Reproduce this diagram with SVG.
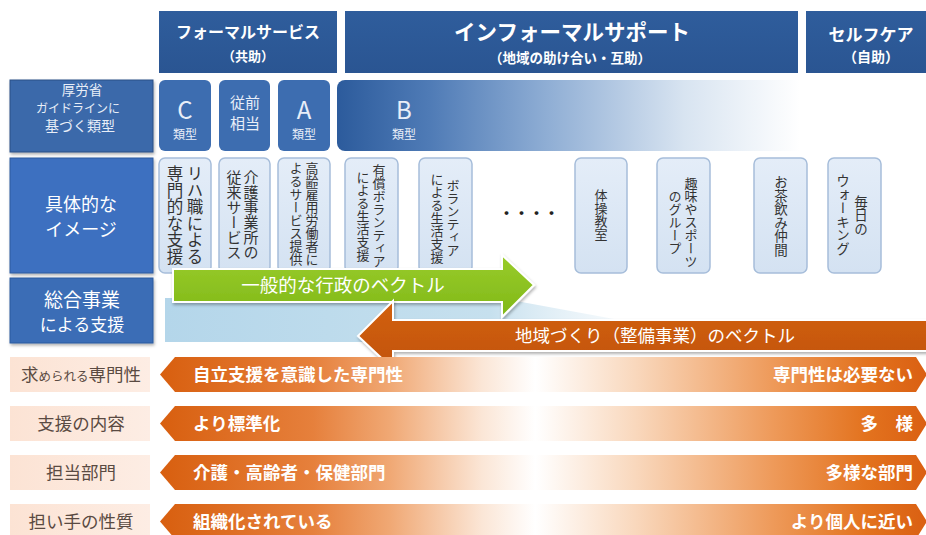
<svg xmlns="http://www.w3.org/2000/svg" width="926" height="535" viewBox="0 0 926 535">
<defs>
<style>
.t{font-family:"Noto Sans CJK JP","Noto Sans CJK SC",sans-serif}
.w{fill:#ffffff}
.wb{fill:#ffffff;font-weight:bold}
.lw{fill:#e8eef8}
.hd{fill:url(#hdg)}
.sq{fill:#3d6db0}
.vb{fill:url(#vbg);stroke:#a6bdda;stroke-width:1.5}
.vt{writing-mode:vertical-rl;text-anchor:middle;fill:#333333}
.lab{fill:url(#pk)}
.lt{fill:#5a4a42;font-size:17.5px;text-anchor:middle}
.bar{fill:url(#og)}
.bl{fill:#ffffff;font-weight:bold;font-size:17.5px}
.br{fill:#ffffff;font-weight:bold;font-size:17.5px;text-anchor:end}
</style>
<linearGradient id="hdg" x1="0" y1="0" x2="0" y2="1">
<stop offset="0" stop-color="#2f5d9c"/><stop offset="1" stop-color="#2a5592"/>
</linearGradient>
<linearGradient id="bg" gradientUnits="userSpaceOnUse" x1="337" y1="0" x2="800" y2="0">
<stop offset="0" stop-color="#2c5b9c"/><stop offset="0.2" stop-color="#4f7bb6"/><stop offset="0.45" stop-color="#8eadd4"/><stop offset="0.75" stop-color="#d8e4f1"/><stop offset="1" stop-color="#ffffff"/>
</linearGradient>
<linearGradient id="vbg" x1="0" y1="0" x2="0" y2="1">
<stop offset="0" stop-color="#e4edf8"/><stop offset="1" stop-color="#d4e2f2"/>
</linearGradient>
<linearGradient id="pk" x1="0" y1="0" x2="1" y2="0">
<stop offset="0" stop-color="#fce3d4"/><stop offset="1" stop-color="#fdede4"/>
</linearGradient>
<linearGradient id="og" gradientUnits="userSpaceOnUse" x1="160" y1="0" x2="926" y2="0">
<stop offset="0" stop-color="#d85f0f"/><stop offset="0.2" stop-color="#e6803c"/><stop offset="0.3" stop-color="#f0a874"/><stop offset="0.42" stop-color="#fbe6d6"/><stop offset="0.49" stop-color="#ffffff"/><stop offset="0.62" stop-color="#f9d8bd"/><stop offset="0.8" stop-color="#ee9a5a"/><stop offset="0.92" stop-color="#e3731f"/><stop offset="1" stop-color="#da6012"/>
</linearGradient>
<linearGradient id="lb" gradientUnits="userSpaceOnUse" x1="165" y1="0" x2="630" y2="0">
<stop offset="0" stop-color="#b4d6ea"/><stop offset="0.7" stop-color="#c6e0ee"/><stop offset="1" stop-color="#e6f1f8" stop-opacity="0.3"/>
</linearGradient>
<linearGradient id="gg" x1="0" y1="0" x2="0" y2="1">
<stop offset="0" stop-color="#99cc2a"/><stop offset="1" stop-color="#80b819"/>
</linearGradient>
<linearGradient id="org" x1="0" y1="0" x2="0" y2="1">
<stop offset="0" stop-color="#d2600f"/><stop offset="1" stop-color="#c2540c"/>
</linearGradient>
<filter id="sh" x="-10%" y="-10%" width="120%" height="130%">
<feDropShadow dx="1" dy="2" stdDeviation="1.5" flood-color="#000" flood-opacity="0.3"/>
</filter>
</defs>

<g id="header-formal">
<rect class="hd" x="159" y="11" width="178" height="62"/>
<text class="t wb" x="248" y="38" font-size="16" text-anchor="middle">フォーマルサービス</text>
<text class="t wb" x="248" y="61" font-size="13" text-anchor="middle">（共助）</text>
</g>
<g id="header-informal">
<rect class="hd" x="345" y="11" width="453" height="62"/>
<text class="t wb" x="572" y="40" font-size="21.5" text-anchor="middle">インフォーマルサポート</text>
<text class="t wb" x="570" y="63" font-size="13.5" text-anchor="middle">（地域の助け合い・互助）</text>
</g>
<g id="header-self">
<rect class="hd" x="806" y="11" width="125" height="62"/>
<text class="t wb" x="871" y="41" font-size="17" text-anchor="middle">セルフケア</text>
<text class="t wb" x="871" y="62" font-size="14" text-anchor="middle">（自助）</text>
</g>

<g id="label-guideline">
<rect x="10" y="80" width="143" height="72" fill="#3a69aa" stroke="#2a4f85" filter="url(#sh)"/>
<text class="t lw" x="82" y="95" font-size="13.5" text-anchor="middle">厚労省</text>
<text class="t lw" x="78" y="113" font-size="12" text-anchor="middle">ガイドラインに</text>
<text class="t lw" x="80" y="131" font-size="14" text-anchor="middle">基づく類型</text>
</g>
<g id="type-c">
<rect class="sq" x="159" y="80" width="52" height="71" rx="6"/>
<text class="t lw" x="185" y="119" font-size="24" text-anchor="middle">C</text>
<text class="t lw" x="185" y="139" font-size="12" text-anchor="middle">類型</text>
</g>
<g id="type-zenso">
<rect class="sq" x="219" y="80" width="51" height="71" rx="6"/>
<text class="t lw" x="245" y="108" font-size="15" text-anchor="middle">従前</text>
<text class="t lw" x="245" y="129" font-size="15" text-anchor="middle">相当</text>
</g>
<g id="type-a">
<rect class="sq" x="278" y="80" width="52" height="71" rx="6"/>
<text class="t lw" x="304" y="119" font-size="24" text-anchor="middle">A</text>
<text class="t lw" x="304" y="139" font-size="12" text-anchor="middle">類型</text>
</g>
<g id="type-b">
<rect x="337" y="80" width="590" height="71" rx="8" fill="url(#bg)"/>
<text class="t lw" x="404" y="119" font-size="24" text-anchor="middle">B</text>
<text class="t lw" x="404" y="139" font-size="12" text-anchor="middle">類型</text>
</g>

<g id="label-image">
<rect x="10" y="158" width="143" height="115" fill="#3c70c0" stroke="#2d5a9e" filter="url(#sh)"/>
<text class="t w" x="81" y="211" font-size="18" text-anchor="middle">具体的な</text>
<text class="t w" x="81" y="236" font-size="18" text-anchor="middle">イメージ</text>
</g>

<g id="img-1">
<rect class="vb" x="159" y="158" width="52" height="115" rx="6"/>
<text class="t vt" x="195" y="215" font-size="16.5">リハ職による</text>
<text class="t vt" x="175" y="215" font-size="16.5">専門的な支援</text>
</g>
<g id="img-2">
<rect class="vb" x="219" y="158" width="51" height="115" rx="6"/>
<text class="t vt" x="251" y="215" font-size="15">介護事業所の</text>
<text class="t vt" x="234" y="215" font-size="15">従来サービス</text>
</g>
<g id="img-3">
<rect class="vb" x="278" y="158" width="52" height="115" rx="6"/>
<text class="t vt" x="312" y="214" font-size="13">高齢雇用労働者に</text>
<text class="t vt" x="296" y="214" font-size="13">よるサービス提供</text>
</g>
<g id="img-4">
<rect class="vb" x="345" y="158" width="53" height="115" rx="6"/>
<text class="t vt" x="379" y="216" font-size="13">有償ボランティア</text>
<text class="t vt" x="363" y="216" font-size="13">による生活支援</text>
</g>
<g id="img-5">
<rect class="vb" x="419" y="158" width="53" height="115" rx="6"/>
<text class="t vt" x="453" y="218" font-size="13">ボランティア</text>
<text class="t vt" x="437" y="218" font-size="13">による生活支援</text>
</g>
<g id="dots">
<text class="t" x="499" y="219" font-size="15" font-weight="bold" fill="#222">・・・・</text>
</g>
<g id="img-6">
<rect class="vb" x="575" y="158" width="52" height="115" rx="6"/>
<text class="t vt" x="601" y="215" font-size="13">体操教室</text>
</g>
<g id="img-7">
<rect class="vb" x="657" y="158" width="53" height="115" rx="6"/>
<text class="t vt" x="691" y="222" font-size="13">趣味やスポーツ</text>
<text class="t vt" x="675" y="222" font-size="13">のグループ</text>
</g>
<g id="img-8">
<rect class="vb" x="754" y="158" width="53" height="115" rx="6"/>
<text class="t vt" x="781" y="216" font-size="13.5">お茶飲み仲間</text>
</g>
<g id="img-9">
<rect class="vb" x="828" y="158" width="53" height="115" rx="6"/>
<text class="t vt" x="861" y="215" font-size="13.5">毎日の</text>
<text class="t vt" x="843" y="215" font-size="13.5">ウォーキング</text>
</g>

<g id="label-sogo">
<rect x="10" y="278" width="143" height="65" fill="#3b6db6" stroke="#2d5a9e" filter="url(#sh)"/>
<text class="t w" x="82" y="307" font-size="19" text-anchor="middle">総合事業</text>
<text class="t w" x="82" y="331" font-size="17" text-anchor="middle">による支援</text>
</g>
<polygon id="support-band" points="165,298 500,298 625,321 625,342 165,342" fill="url(#lb)"/>

<g id="connectors">
<g id="vector-admin">
<polygon points="173,269 502,269 502,255 534,285 502,317 502,302 173,302" fill="url(#gg)" stroke="#ffffff" stroke-width="2" filter="url(#sh)"/>
<text class="t w" x="343" y="292" font-size="18.5" text-anchor="middle">一般的な行政のベクトル</text>
</g>
<g id="vector-community">
<polygon points="928,320 393,320 393,301 358,336 393,369 393,351 928,351" fill="url(#org)" stroke="#ffffff" stroke-width="2" filter="url(#sh)"/>
<text class="t w" x="515" y="342" font-size="17.5">地域づくり（整備事業）のベクトル</text>
</g>
</g>

<g id="row-senmon">
<rect class="lab" x="10" y="357" width="140" height="35"/>
<text class="t lt" x="81" y="381"><tspan>求</tspan><tspan font-size="12.5">められる</tspan><tspan>専門性</tspan></text>
<path class="bar" d="M160,374.5 L175,357 L916,357 L927,374.5 L916,392 L175,392 Z"/>
<text class="t bl" x="193" y="381">自立支援を意識した専門性</text>
<text class="t br" x="913" y="381">専門性は必要ない</text>
</g>
<g id="row-naiyo">
<rect class="lab" x="10" y="406" width="140" height="35"/>
<text class="t lt" x="81" y="430">支援の内容</text>
<path class="bar" d="M160,423.5 L175,406 L916,406 L927,423.5 L916,441 L175,441 Z"/>
<text class="t bl" x="193" y="430">より標準化</text>
<text class="t br" x="913" y="430">多　様</text>
</g>
<g id="row-bumon">
<rect class="lab" x="10" y="455" width="140" height="35"/>
<text class="t lt" x="81" y="479">担当部門</text>
<path class="bar" d="M160,472.5 L175,455 L916,455 L927,472.5 L916,490 L175,490 Z"/>
<text class="t bl" x="193" y="479">介護・高齢者・保健部門</text>
<text class="t br" x="913" y="479">多様な部門</text>
</g>
<g id="row-ninaite">
<rect class="lab" x="10" y="504" width="140" height="35"/>
<text class="t lt" x="81" y="528">担い手の性質</text>
<path class="bar" d="M160,521.5 L175,504 L916,504 L927,521.5 L916,539 L175,539 Z"/>
<text class="t bl" x="193" y="528">組織化されている</text>
<text class="t br" x="913" y="528">より個人に近い</text>
</g>
</svg>
